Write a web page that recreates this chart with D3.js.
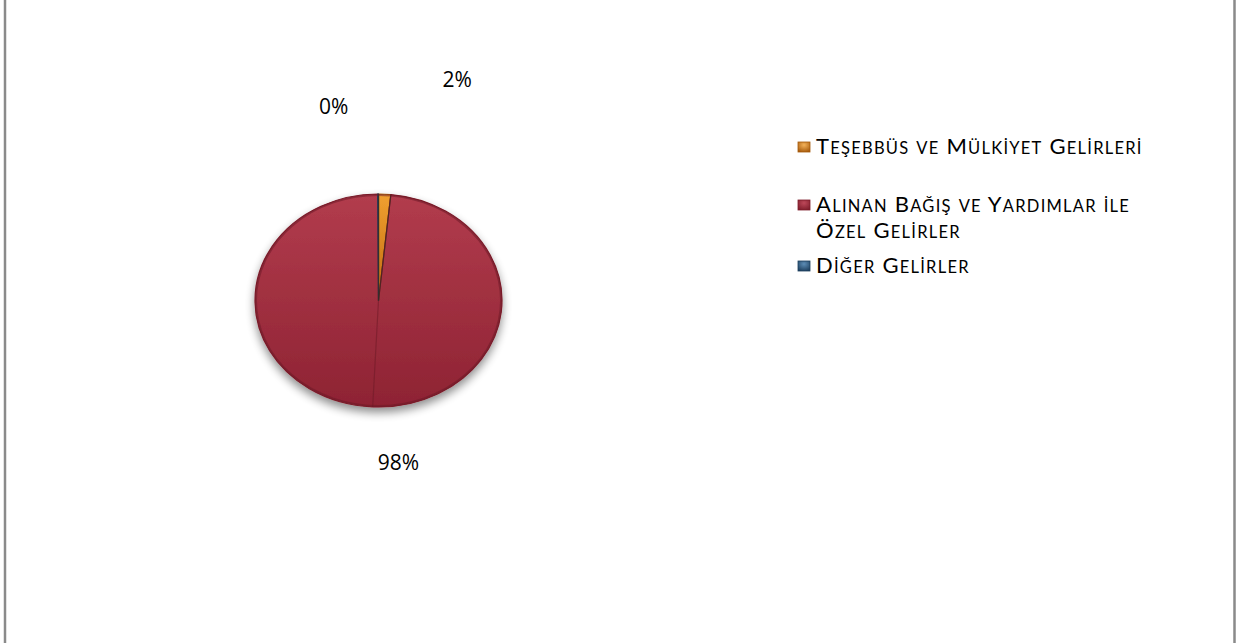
<!DOCTYPE html>
<html lang="tr">
<head>
<meta charset="utf-8">
<script src="https://cdn.jsdelivr.net/npm/d3@7"></script>
<style>
  html, body { margin: 0; padding: 0; background: #fff; }
  svg { display: block; }
  .sc { text-transform: uppercase; }
</style>
</head>
<body>
<svg id="chart" width="1241" height="643"></svg>
<script>
// ---- data ----
const categories = [
  "Teşebbüs ve Mülkiyet Gelirleri",
  "Alınan Bağış ve Yardımlar ile Özel Gelirler",
  "Diğer Gelirler"
];
const values = [1.6, 98.3, 0.1];
const legendLines = [
  ["Teşebbüs ve Mülkiyet Gelirleri"],
  ["Alınan Bağış ve Yardımlar ile", "Özel Gelirler"],
  ["Diğer Gelirler"]
];
const colors = ["#e0861f", "#a0303f", "#2f6189"];
const lightColors = ["#f3b25a", "#bd4859", "#5c8cb5"];
const darkColors = ["#a65a0c", "#7e1d2b", "#1d3f5e"];

// ---- layout ----
const W = 1241, H = 643;
const cx = 378.5, cy = 300.5, rx = 123.5, ry = 106.5;
const svg = d3.select("#chart");
const defs = svg.append("defs");

// frame (left and right edges of the chart area)
svg.append("line").attr("x1", 5).attr("x2", 5).attr("y1", 0).attr("y2", H)
  .attr("stroke", "#8a8a8a").attr("stroke-width", 2.5);
svg.append("line").attr("x1", 1234.5).attr("x2", 1234.5).attr("y1", 0).attr("y2", H)
  .attr("stroke", "#8a8a8a").attr("stroke-width", 2.5);

// gradients
colors.forEach((c, i) => {
  const g = defs.append("radialGradient").attr("id", "grad" + i)
    .attr("cx", "50%").attr("cy", "30%").attr("r", "75%");
  g.append("stop").attr("offset", "0%").attr("stop-color", lightColors[i]);
  g.append("stop").attr("offset", "100%").attr("stop-color", darkColors[i]);
});
const pieGrad = defs.append("linearGradient").attr("id", "pieShade")
  .attr("x1", 0).attr("y1", 0).attr("x2", 0).attr("y2", 1);
pieGrad.append("stop").attr("offset", "0%").attr("stop-color", "#b23c4d");
pieGrad.append("stop").attr("offset", "100%").attr("stop-color", "#8e2333");
const orangeGrad = defs.append("linearGradient").attr("id", "orangeShade")
  .attr("x1", 0).attr("y1", 0).attr("x2", 0).attr("y2", 1);
orangeGrad.append("stop").attr("offset", "0%").attr("stop-color", "#f0a030");
orangeGrad.append("stop").attr("offset", "100%").attr("stop-color", "#c06a10");

const shadow = defs.append("filter").attr("id", "shadow")
  .attr("x", "-30%").attr("y", "-30%").attr("width", "160%").attr("height", "160%");
shadow.append("feGaussianBlur").attr("in", "SourceAlpha").attr("stdDeviation", 5).attr("result", "b");
shadow.append("feOffset").attr("in", "b").attr("dx", 0).attr("dy", 5).attr("result", "o");
shadow.append("feComponentTransfer").attr("in", "o").attr("result", "s")
  .append("feFuncA").attr("type", "linear").attr("slope", 0.45);
const m = shadow.append("feMerge");
m.append("feMergeNode").attr("in", "s");
m.append("feMergeNode").attr("in", "SourceGraphic");

// pie (drawn on unit circle, scaled to ellipse)
const pie = d3.pie().sort(null).value(d => d)(values);
const arc = d3.arc().innerRadius(0).outerRadius(1);
const sx = d3.scaleLinear().domain([-1, 1]).range([cx - rx, cx + rx]);
const sy = d3.scaleLinear().domain([-1, 1]).range([cy - ry, cy + ry]);

const pg = svg.append("g").attr("filter", "url(#shadow)");
const slices = pg.append("g")
  .attr("transform", `translate(${cx},${cy}) scale(${rx},${ry})`);
const fills = ["url(#orangeShade)", "url(#pieShade)", colors[2]];
slices.selectAll("path").data(pie).join("path")
  .attr("d", arc)
  .attr("fill", (d, i) => fills[i])
  .attr("stroke", (d, i) => darkColors[i])
  .attr("stroke-width", 1.2)
  .attr("vector-effect", "non-scaling-stroke");

// subtle bevel line through large slice's mid-angle
const big = pie[1];
const midBig = (big.startAngle + big.endAngle) / 2;
svg.append("line")
  .attr("x1", sx(0)).attr("y1", sy(0))
  .attr("x2", sx(Math.sin(midBig))).attr("y2", sy(-Math.cos(midBig)))
  .attr("stroke", "#6e1a26").attr("stroke-opacity", 0.55).attr("stroke-width", 1.2);
// dark edge along small slices
[pie[0].startAngle, pie[0].endAngle].forEach(a => {
  svg.append("line")
    .attr("x1", sx(0)).attr("y1", sy(0))
    .attr("x2", sx(Math.sin(a))).attr("y2", sy(-Math.cos(a)))
    .attr("stroke", "#3a2a20").attr("stroke-opacity", 0.7).attr("stroke-width", 1.2);
});
// rim
svg.append("ellipse").attr("cx", cx).attr("cy", cy).attr("rx", rx - 1).attr("ry", ry - 1)
  .attr("fill", "none").attr("stroke", "#6a1825").attr("stroke-opacity", 0.5).attr("stroke-width", 2);

// data labels: polar placement with nudges
const labelPlace = [
  { k: 2.05, dx: 66, dy: -1 },
  { k: 1.55, dx: 29, dy: -1 },
  { k: 1.8, dx: -44, dy: 0 }
];
pie.forEach((d, i) => {
  const a = (d.startAngle + d.endAngle) / 2;
  const p = labelPlace[i];
  svg.append("text")
    .attr("x", sx(Math.sin(a) * p.k) + p.dx)
    .attr("y", sy(-Math.cos(a) * p.k) + p.dy)
    .attr("text-anchor", "middle")
    .attr("dominant-baseline", "middle")
    .attr("font-family", "'Open Sans', sans-serif")
    .attr("font-size", 21)
    .attr("fill", "#000")
    .text(Math.round(d.data) + "%");
});

// legend (small caps: lowercase runs rendered as smaller capitals)
const legendX = 798, textX = 816;
const bigSize = 22, smallSize = 16.5;
const baselines = [[154], [212, 238], [273]];
function addSmallCaps(textSel, str) {
  const runs = [];
  for (const ch of str) {
    const lower = ch !== ch.toLocaleUpperCase("tr") && ch === ch.toLocaleLowerCase("tr");
    if (runs.length && runs[runs.length - 1].lower === lower) runs[runs.length - 1].t += ch;
    else runs.push({ lower, t: ch });
  }
  runs.forEach(r => {
    const ts = textSel.append("tspan").text(r.t);
    if (r.lower) ts.attr("class", "sc").attr("font-size", smallSize);
  });
}
legendLines.forEach((lines, i) => {
  const g = svg.append("g");
  const mk = baselines[i][0] - 7;
  g.append("rect").attr("x", legendX).attr("y", mk - 5).attr("width", 12).attr("height", 10)
    .attr("fill", `url(#grad${i})`).attr("stroke", darkColors[i]).attr("stroke-width", 0.8);
  lines.forEach((t, j) => {
    const tx = g.append("text")
      .attr("x", textX).attr("y", baselines[i][j])
      .attr("font-family", "Lato, sans-serif")
      .attr("font-size", bigSize)
      .attr("letter-spacing", 1.25)
      .attr("lang", "tr")
      .attr("fill", "#000");
    addSmallCaps(tx, t);
  });
});
</script>
</body>
</html>
